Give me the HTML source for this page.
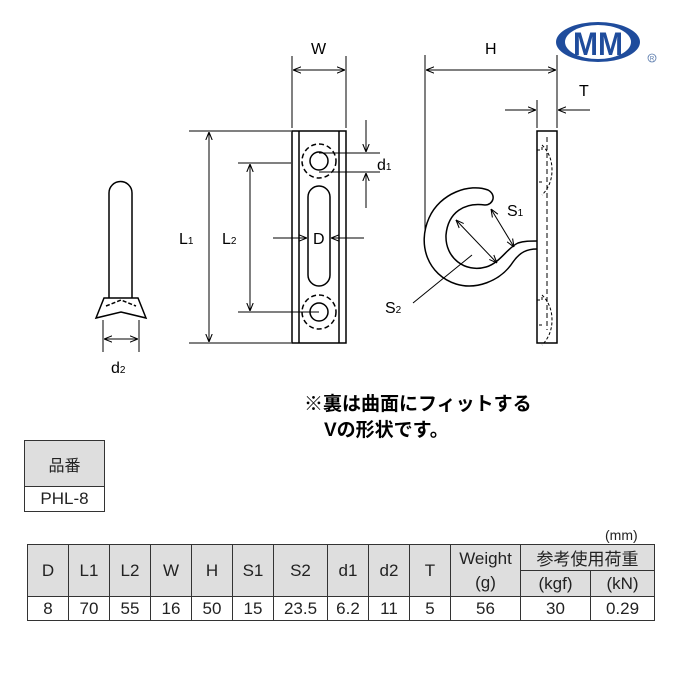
<!DOCTYPE html>
<html><head><meta charset="utf-8"><style>
body{margin:0;background:#fff;width:680px;height:680px;overflow:hidden;position:relative;font-family:"Liberation Sans","Noto Sans CJK JP",sans-serif;}
svg{position:absolute;left:0;top:0}
table{position:absolute;border-collapse:collapse;font-size:17px;}
td{border:1px solid #333;text-align:center;padding:0;color:#222}
.h{background:#dedede}
</style></head><body>
<svg width="680" height="680" viewBox="0 0 680 680" font-family="Liberation Sans, sans-serif">
<defs><marker id="a" viewBox="0 0 10 10" refX="10" refY="5" markerWidth="8" markerHeight="8" orient="auto-start-reverse"><path d="M0,1 L10,5 L0,9" fill="none" stroke="#000" stroke-width="1.3"/></marker></defs>
<g stroke="#000" stroke-width="1.5" fill="none">
<!-- pin -->
<path d="M109,300 V193 a11.5,11.5 0 0 1 23,0 V300"/>
<path d="M104,298 H138 L146,318 L121,312 L96,318 Z" fill="#fff"/>
<path d="M106,306 L121,300 L136,306" stroke-dasharray="4,2"/>
<line x1="103" y1="320" x2="103" y2="352" stroke-width="1"/><line x1="139" y1="320" x2="139" y2="352" stroke-width="1"/>
<line x1="104" y1="339" x2="138" y2="339" stroke-width="1" marker-start="url(#a)" marker-end="url(#a)"/>
<!-- front plate -->
<rect x="292" y="131" width="54" height="212"/>
<line x1="299" y1="131" x2="299" y2="343"/><line x1="339" y1="131" x2="339" y2="343"/>
<circle cx="319" cy="161" r="9"/><circle cx="319" cy="312" r="9"/>
<circle cx="319" cy="161" r="17" stroke-dasharray="5,3"/><circle cx="319" cy="312" r="17" stroke-dasharray="5,3"/>
<rect x="308" y="186" width="22" height="100" rx="11"/>
<g stroke-width="1">
<line x1="189" y1="131" x2="291" y2="131"/><line x1="189" y1="343" x2="291" y2="343"/>
<line x1="209" y1="132" x2="209" y2="342" marker-start="url(#a)" marker-end="url(#a)"/>
<line x1="238" y1="163" x2="291" y2="163"/><line x1="238" y1="312" x2="319" y2="312"/>
<line x1="250" y1="164" x2="250" y2="311" marker-start="url(#a)" marker-end="url(#a)"/>
<line x1="292" y1="56" x2="292" y2="128"/><line x1="346" y1="56" x2="346" y2="128"/>
<line x1="293" y1="70" x2="345" y2="70" marker-start="url(#a)" marker-end="url(#a)"/>
<line x1="319" y1="153" x2="380" y2="153"/><line x1="319" y1="172" x2="380" y2="172"/>
<line x1="366" y1="120" x2="366" y2="152" marker-end="url(#a)"/>
<line x1="366" y1="208" x2="366" y2="173" marker-end="url(#a)"/>
<line x1="273" y1="238" x2="307" y2="238" marker-end="url(#a)"/>
<line x1="364" y1="238" x2="331" y2="238" marker-end="url(#a)"/>
<!-- side -->
<line x1="425" y1="55" x2="425" y2="230"/><line x1="557" y1="55" x2="557" y2="128"/>
<line x1="426" y1="70" x2="556" y2="70" marker-start="url(#a)" marker-end="url(#a)"/>
<line x1="537" y1="100" x2="537" y2="128"/>
<line x1="505" y1="110" x2="536" y2="110" marker-end="url(#a)"/>
<line x1="590" y1="110" x2="558" y2="110" marker-end="url(#a)"/>
<line x1="456" y1="220" x2="497" y2="263" marker-start="url(#a)" marker-end="url(#a)"/>
<line x1="491" y1="209" x2="514" y2="247" marker-start="url(#a)" marker-end="url(#a)"/>
<line x1="413" y1="303" x2="472" y2="255"/>
</g>
<rect x="537" y="131" width="20" height="212"/>
<path d="M547,137 V330" stroke-width="1" stroke-dasharray="5,3"/>
<path d="M537,150 h5 v-5 q10,10 10,25 q0,15 -10,25 M542,182 h-5" stroke-width="1" stroke-dasharray="3,2"/>
<path d="M537,300 h5 v-5 q10,10 10,25 q0,15 -10,25 M542,325 h-5" stroke-width="1" stroke-dasharray="3,2"/>
<path d="M537,249 C527,249 520,252 513,262 C500,282 475,290 456,284 C428,275 417,245 429,218 C440,193 470,183 488,190 C497,195 493,205 485,205 C465,202 448,212 446,235 C445,258 465,273 486,267 C500,263 507,248 518,243 C524,241 530,241 537,241"/>
</g>
<g font-size="16" fill="#000">
<text x="311" y="54">W</text><text x="485" y="54">H</text><text x="579" y="96">T</text>
<text x="179" y="244">L<tspan font-size="10">1</tspan></text>
<text x="222" y="244">L<tspan font-size="10">2</tspan></text>
<text x="313" y="244">D</text>
<text x="377" y="170">d<tspan font-size="10">1</tspan></text>
<text x="111" y="373">d<tspan font-size="10">2</tspan></text>
<text x="507" y="216">S<tspan font-size="10">1</tspan></text>
<text x="385" y="313">S<tspan font-size="10">2</tspan></text>
</g>
<!-- logo -->
<ellipse cx="598" cy="42" rx="42" ry="20" fill="#1f4c9c"/>
<ellipse cx="598" cy="42" rx="33" ry="17" fill="#fff"/>
<text x="598" y="55" font-size="32" font-weight="bold" fill="#1f4c9c" text-anchor="middle" textLength="50" lengthAdjust="spacingAndGlyphs">MM</text>
<circle cx="652" cy="58" r="4" fill="none" stroke="#5577aa" stroke-width="0.8"/>
<text x="652" y="60.5" font-size="6" fill="#5577aa" text-anchor="middle">R</text>
<text x="304" y="410" font-size="19" font-weight="bold" font-family="Liberation Sans, Noto Sans CJK JP, sans-serif">※裏は曲面にフィットする</text>
<text x="324" y="436" font-size="19" font-weight="bold" font-family="Liberation Sans, Noto Sans CJK JP, sans-serif">Vの形状です。</text>
<text x="605" y="540" font-size="14" fill="#222">(mm)</text>
</svg>
<table style="left:24px;top:440px;width:81px">
<tr><td class="h" style="height:45px;font-size:16px">品番</td></tr>
<tr><td style="height:24px">PHL-8</td></tr>
</table>
<table style="left:27px;top:544px;width:628px">
<tr style="height:25px"><td class="h" rowspan="2" style="width:40px">D</td><td class="h" rowspan="2" style="width:40px">L1</td><td class="h" rowspan="2" style="width:40px">L2</td><td class="h" rowspan="2" style="width:40px">W</td><td class="h" rowspan="2" style="width:40px">H</td><td class="h" rowspan="2" style="width:40px">S1</td><td class="h" rowspan="2" style="width:53px">S2</td><td class="h" rowspan="2" style="width:40px">d1</td><td class="h" rowspan="2" style="width:40px">d2</td><td class="h" rowspan="2" style="width:40px">T</td><td class="h" rowspan="2" style="width:69px;line-height:24px">Weight<br>(g)</td><td class="h" colspan="2">参考使用荷重</td></tr>
<tr style="height:26px"><td class="h" style="width:69px">(kgf)</td><td class="h">(kN)</td></tr>
<tr style="height:24px"><td>8</td><td>70</td><td>55</td><td>16</td><td>50</td><td>15</td><td>23.5</td><td>6.2</td><td>11</td><td>5</td><td>56</td><td>30</td><td>0.29</td></tr>
</table>
</body></html>
